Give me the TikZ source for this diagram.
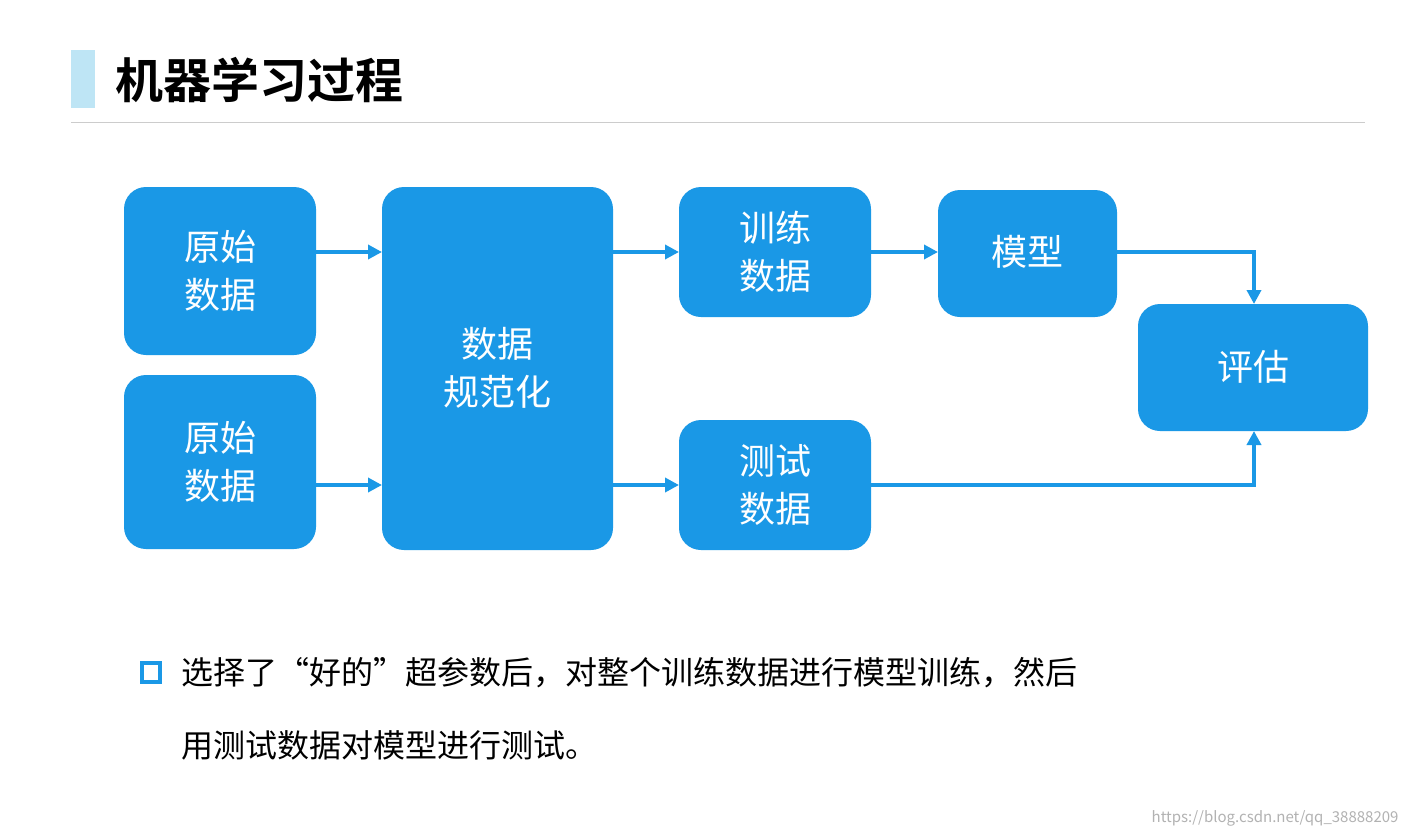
\documentclass[tikz,border=0pt]{standalone}
\usepackage{fontspec}
\setmainfont{Noto Sans CJK SC}
\newfontfamily\cjkb{Noto Sans CJK SC Bold}
\usetikzlibrary{arrows.meta}
\definecolor{boxblue}{HTML}{1A98E6}
\definecolor{barblue}{HTML}{BEE5F5}
\tikzset{
  bx/.style={fill=boxblue,rounded corners=22pt,text=white,align=center,font=\fontsize{36}{44}\selectfont},
  ar/.style={draw=boxblue,line width=3.5pt,-{Triangle[length=14pt,width=14pt]}}
}
\begin{document}
\begin{tikzpicture}[x=1pt,y=-1pt]
\useasboundingbox[fill=white] (0,0) rectangle (1410,835);
\fill[barblue] (71,50) rectangle (95,108);
\node[anchor=west,font=\cjkb\fontsize{48}{56}\selectfont] (title) at (112,80) {机器学习过程};
\draw[gray!40,line width=1pt] (71,122) -- (1365,122);
\path[bx] (124,187) rectangle (316,355); \node[text=white,align=center,font=\fontsize{36}{48}\selectfont] (r1) at (220,271) {原始\\数据};
\path[bx] (124,375) rectangle (316,549); \node[text=white,align=center,font=\fontsize{36}{48}\selectfont] (r2) at (220,462) {原始\\数据};
\path[bx] (382,187) rectangle (613,550); \node[text=white,align=center,font=\fontsize{36}{48}\selectfont] (nm) at (497,368) {数据\\规范化};
\path[bx] (679,187) rectangle (871,317); \node[text=white,align=center,font=\fontsize{36}{48}\selectfont] (tr) at (775,252) {训练\\数据};
\path[bx] (679,420) rectangle (871,550); \node[text=white,align=center,font=\fontsize{36}{48}\selectfont] (te) at (775,485) {测试\\数据};
\path[bx] (938,190) rectangle (1117,317); \node[text=white,font=\fontsize{36}{48}\selectfont] (md) at (1027,252) {模型};
\path[bx] (1138,304) rectangle (1368,431); \node[text=white,font=\fontsize{36}{48}\selectfont] (ev) at (1253,367) {评估};
\coordinate (a1) at (316,252); \coordinate (b1) at (382,252);
\coordinate (a2) at (316,485); \coordinate (b2) at (382,485);
\coordinate (a3) at (613,252); \coordinate (b3) at (679,252);
\coordinate (a4) at (613,485); \coordinate (b4) at (679,485);
\coordinate (a5) at (871,252); \coordinate (b5) at (938,252);
\coordinate (a6) at (1117,252); \coordinate (b6) at (1254,304);
\coordinate (a7) at (871,485); \coordinate (b7) at (1254,431);
\draw[ar] (a1) -- (b1);
\draw[ar] (a2) -- (b2);
\draw[ar] (a3) -- (b3);
\draw[ar] (a4) -- (b4);
\draw[ar] (a5) -- (b5);
\draw[ar] (a6) -| (b6);
\draw[ar] (a7) -| (b7);
\draw[boxblue,line width=4pt] (142,663) rectangle (160,682);
\node[anchor=west,font=\fontsize{32}{40}\selectfont] (t1) at (178,673) {选择了“好的”超参数后，对整个训练数据进行模型训练，然后};
\node[anchor=west,font=\fontsize{32}{40}\selectfont] (t2) at (178,745) {用测试数据对模型进行测试。};
\node[anchor=east,text=gray!60,font=\fontsize{15}{18}\selectfont] (wm) at (1402,818) {https://blog.csdn.net/qq\_38888209};
\end{tikzpicture}
\end{document}
